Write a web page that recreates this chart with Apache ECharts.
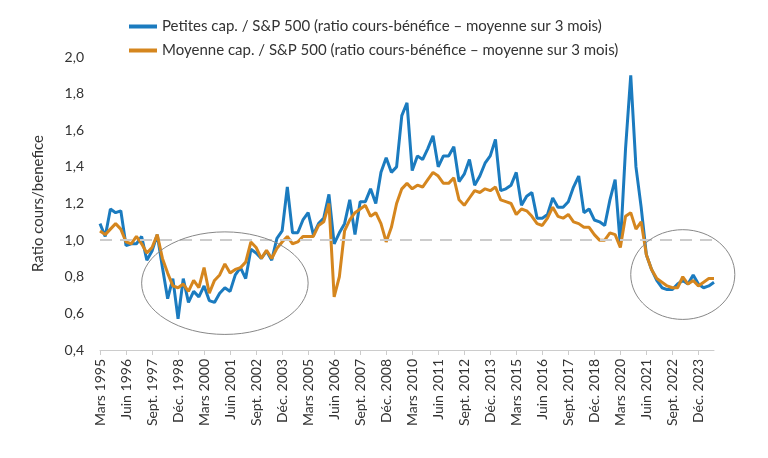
<!DOCTYPE html>
<html>
<head>
<meta charset="utf-8">
<script src="https://cdn.jsdelivr.net/npm/echarts@6/dist/echarts.min.js"></script>
<style>html,body{margin:0;padding:0;background:#fff}#c{width:768px;height:458px}</style>
</head>
<body>
<div id="c"></div>
<script>
// Quarter names and years for the category axis
const quarterNames = ['Mars', 'Juin', 'Sept.', 'Déc.'];
const firstYear = 1995;
const pointCount = 119;

const seriesNames = [
  'Petites cap. / S&P 500 (ratio cours-bénéfice – moyenne sur 3 mois)',
  'Moyenne cap. / S&P 500 (ratio cours-bénéfice – moyenne sur 3 mois)'
];

const smallCap = [
1.09,1.02,1.17,1.15,1.16,0.97,0.98,0.98,1.02,0.89,
0.94,1.03,0.85,0.68,0.79,0.57,0.79,0.66,0.72,0.69,
0.75,0.67,0.66,0.71,0.74,0.72,0.81,0.85,0.79,0.95,
0.93,0.90,0.94,0.89,1.01,1.05,1.29,1.04,1.04,1.11,
1.15,1.03,1.09,1.12,1.25,0.98,1.04,1.09,1.22,1.03,
1.21,1.21,1.28,1.20,1.37,1.45,1.37,1.40,1.68,1.75,
1.38,1.46,1.44,1.50,1.57,1.40,1.46,1.46,1.51,1.32,
1.36,1.44,1.30,1.35,1.42,1.46,1.55,1.27,1.28,1.30,
1.37,1.19,1.24,1.26,1.12,1.12,1.14,1.23,1.18,1.18,
1.21,1.29,1.35,1.15,1.17,1.11,1.10,1.08,1.22,1.33,
0.97,1.50,1.90,1.40,1.18,0.92,0.84,0.78,0.74,0.73,
0.73,0.76,0.78,0.76,0.81,0.76,0.74,0.75,0.77
];

const midCap = [
1.05,1.03,1.06,1.09,1.06,0.99,0.98,1.02,0.98,0.93,
0.96,1.03,0.90,0.82,0.75,0.74,0.76,0.72,0.78,0.74,
0.85,0.71,0.78,0.81,0.87,0.82,0.84,0.85,0.88,0.99,
0.96,0.90,0.945,0.90,0.955,0.99,1.02,0.98,0.99,1.02,
1.02,1.02,1.08,1.10,1.20,0.69,0.80,1.05,1.11,1.15,
1.17,1.19,1.13,1.15,1.09,0.99,1.07,1.20,1.28,1.31,
1.28,1.30,1.29,1.33,1.37,1.35,1.31,1.31,1.34,1.22,
1.19,1.23,1.27,1.26,1.28,1.27,1.29,1.22,1.21,1.20,
1.14,1.17,1.16,1.13,1.09,1.08,1.12,1.18,1.13,1.12,
1.14,1.10,1.09,1.07,1.07,1.03,1.00,1.00,1.04,1.03,
0.96,1.13,1.15,1.06,1.10,0.92,0.84,0.79,0.77,0.75,
0.74,0.74,0.80,0.76,0.78,0.75,0.77,0.79,0.79
];

const yTicks = { min: 0.4, max: 2.0, interval: 0.2 };
const referenceLevel = 1.0;

// Highlighted zones (category index centre, value centre, half-width in quarters, half-height in value)
const zones = [
  { cx: 24.2, cy: 0.765, rx: 15.4, ry: 0.28 },
  { cx: 111.7, cy: 0.812, rx: 9.8, ry: 0.245 }
];

const categories = [];
for (let i = 0; i < pointCount; i++) {
  categories.push(quarterNames[i % 4] + ' ' + (firstYear + Math.floor(i / 4)));
}

const FONT = 'Lato';
const chart = echarts.init(document.getElementById('c'), null, { renderer: 'canvas' });
const option = {
  animation: false,
  backgroundColor: '#ffffff',
  color: ['#1b7bbf', '#d5861e'],
  textStyle: { fontFamily: FONT },
  legend: {
    orient: 'vertical',
    left: 124,
    top: 14,
    itemGap: 9,
    itemWidth: 28,
    itemHeight: 4,
    icon: 'rect',
    textStyle: { fontFamily: FONT, fontSize: 15, color: '#333' },
    data: seriesNames
  },
  grid: { left: 100, right: 54, top: 57, bottom: 108 },
  xAxis: {
    type: 'category',
    data: categories,
    boundaryGap: false,
    axisLine: { lineStyle: { color: '#cccccc', width: 1 } },
    axisTick: { interval: 4, length: 5, lineStyle: { color: '#cccccc' } },
    axisLabel: { interval: 4, rotate: 90, margin: 9, fontFamily: FONT, fontSize: 14, color: '#333' }
  },
  yAxis: {
    type: 'value',
    min: yTicks.min, max: yTicks.max, interval: yTicks.interval,
    name: 'Ratio cours/benefice',
    nameLocation: 'middle',
    nameGap: 54,
    nameTextStyle: { fontFamily: FONT, fontSize: 15, color: '#333' },
    axisLine: { show: false },
    axisTick: { show: false },
    splitLine: { show: false },
    axisLabel: {
      margin: 16, fontFamily: FONT, fontSize: 14, color: '#333',
      formatter: v => v.toFixed(1).replace('.', ',')
    }
  },
  series: [
    {
      name: seriesNames[0], type: 'line', data: smallCap, showSymbol: false,
      lineStyle: { width: 3 }, z: 3,
      markLine: {
        silent: true, symbol: 'none', label: { show: false },
        lineStyle: { color: '#cccccc', type: [12, 8], width: 2 },
        data: [{ yAxis: referenceLevel }]
      }
    },
    {
      name: seriesNames[1], type: 'line', data: midCap, showSymbol: false,
      lineStyle: { width: 3 }, z: 4
    }
  ]
};
chart.setOption(option);

function drawZones() {
  const g = zones.map(z => {
    const c = chart.convertToPixel({ xAxisIndex: 0, yAxisIndex: 0 }, [z.cx, z.cy]);
    const e = chart.convertToPixel({ xAxisIndex: 0, yAxisIndex: 0 }, [z.cx + z.rx, z.cy + z.ry]);
    return {
      type: 'ellipse', silent: true, z: 10,
      shape: { cx: c[0], cy: c[1], rx: Math.abs(e[0] - c[0]), ry: Math.abs(c[1] - e[1]) },
      style: { fill: 'none', stroke: '#888888', lineWidth: 1 }
    };
  });
  chart.setOption({ graphic: g });
}
drawZones();
</script>
</body>
</html>
